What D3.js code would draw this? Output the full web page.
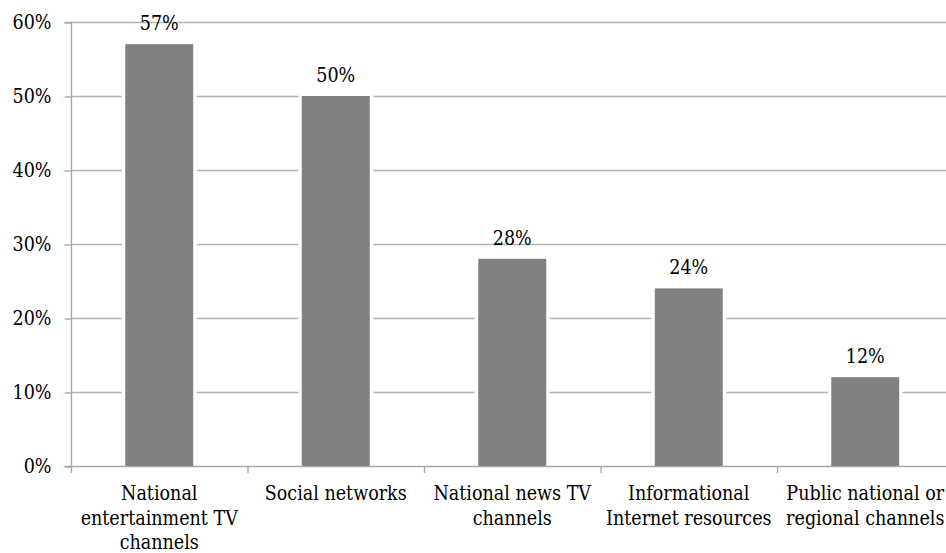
<!DOCTYPE html>
<html>
<head>
<meta charset="utf-8">
<script src="https://cdn.jsdelivr.net/npm/d3@7"></script>
<style>
  html, body { margin: 0; padding: 0; background: #fff; }
  svg { display: block; }
  svg text { font-family: "DejaVu Serif Condensed", "DejaVu Serif", serif; font-stretch: condensed; }
</style>
</head>
<body>
<svg id="chart" width="946" height="553"></svg>
<script>
const categories = [
  "National entertainment TV channels",
  "Social networks",
  "National news TV channels",
  "Informational Internet resources",
  "Public national or regional channels"
];
const categoryLines = [
  ["National", "entertainment TV", "channels"],
  ["Social networks"],
  ["National news TV", "channels"],
  ["Informational", "Internet resources"],
  ["Public national or", "regional channels"]
];
const values = [57, 50, 28, 24, 12];
const yTicks = [0, 10, 20, 30, 40, 50, 60];

const svg = d3.select("#chart");
const W = 946, H = 553;
const x0 = 71, step = 176.5, y0 = 466, yTop = 22;
const fontSize = 19.5;

const x = d3.scaleBand()
  .domain(categories)
  .range([x0, x0 + step * categories.length])
  .paddingInner(0.615)
  .paddingOuter(0.3075);

const y = d3.scaleLinear().domain([0, 60]).range([y0, yTop]);

svg.append("g")
  .selectAll("line")
  .data(yTicks.filter(d => d > 0))
  .join("line")
  .attr("x1", x0).attr("x2", W)
  .attr("y1", d => y(d) + 0.5).attr("y2", d => y(d) + 0.5)
  .attr("stroke", "#b3b3b3").attr("stroke-width", 1.3);

svg.append("g")
  .selectAll("rect")
  .data(values)
  .join("rect")
  .attr("x", (d, i) => x(categories[i]))
  .attr("width", x.bandwidth())
  .attr("y", d => y(d))
  .attr("height", d => y0 - y(d))
  .attr("fill", "#808080")
  .attr("stroke", "#fff")
  .attr("stroke-width", 7)
  .style("paint-order", "stroke");

const yAxis = d3.axisLeft(y)
  .tickValues(yTicks)
  .tickFormat(d => d + "%")
  .tickSize(7)
  .tickPadding(13);
const gy = svg.append("g").attr("transform", `translate(${x0 + 0.5},0.5)`).call(yAxis);
gy.attr("font-family", null).attr("font-size", fontSize);
gy.select(".domain").attr("stroke", "#a6a6a6").attr("stroke-width", 1.3).attr("d", `M-7,${y0}H0V${yTop}H-7`);
gy.selectAll(".tick line").attr("stroke", "#a6a6a6").attr("stroke-width", 1.3);
gy.selectAll(".tick text").attr("fill", "#000");

const bandEdges = d3.range(categories.length + 1).map(i => x0 + step * i);
svg.append("line")
  .attr("x1", x0).attr("x2", W)
  .attr("y1", y0 + 0.5).attr("y2", y0 + 0.5)
  .attr("stroke", "#a6a6a6").attr("stroke-width", 1.3);
svg.append("g").selectAll("line")
  .data(bandEdges)
  .join("line")
  .attr("x1", d => d + 0.5).attr("x2", d => d + 0.5)
  .attr("y1", y0).attr("y2", y0 + 7)
  .attr("stroke", "#a6a6a6").attr("stroke-width", 1.3);

const xl = svg.append("g").selectAll("text")
  .data(categories)
  .join("text")
  .attr("text-anchor", "middle")
  .attr("font-size", fontSize)
  .attr("fill", "#000")
  .attr("transform", d => `translate(${x(d) + x.bandwidth() / 2},0)`);
xl.each(function(d, i) {
  d3.select(this).selectAll("tspan")
    .data(categoryLines[i])
    .join("tspan")
    .attr("x", 0)
    .attr("y", (t, j) => 500 + j * 24.5)
    .text(t => t);
});

svg.append("g").selectAll("text")
  .data(values)
  .join("text")
  .attr("text-anchor", "middle")
  .attr("font-size", fontSize)
  .attr("fill", "#000")
  .attr("x", (d, i) => x(categories[i]) + x.bandwidth() / 2)
  .attr("y", d => y(d) - 14)
  .text(d => d + "%");
</script>
</body>
</html>
